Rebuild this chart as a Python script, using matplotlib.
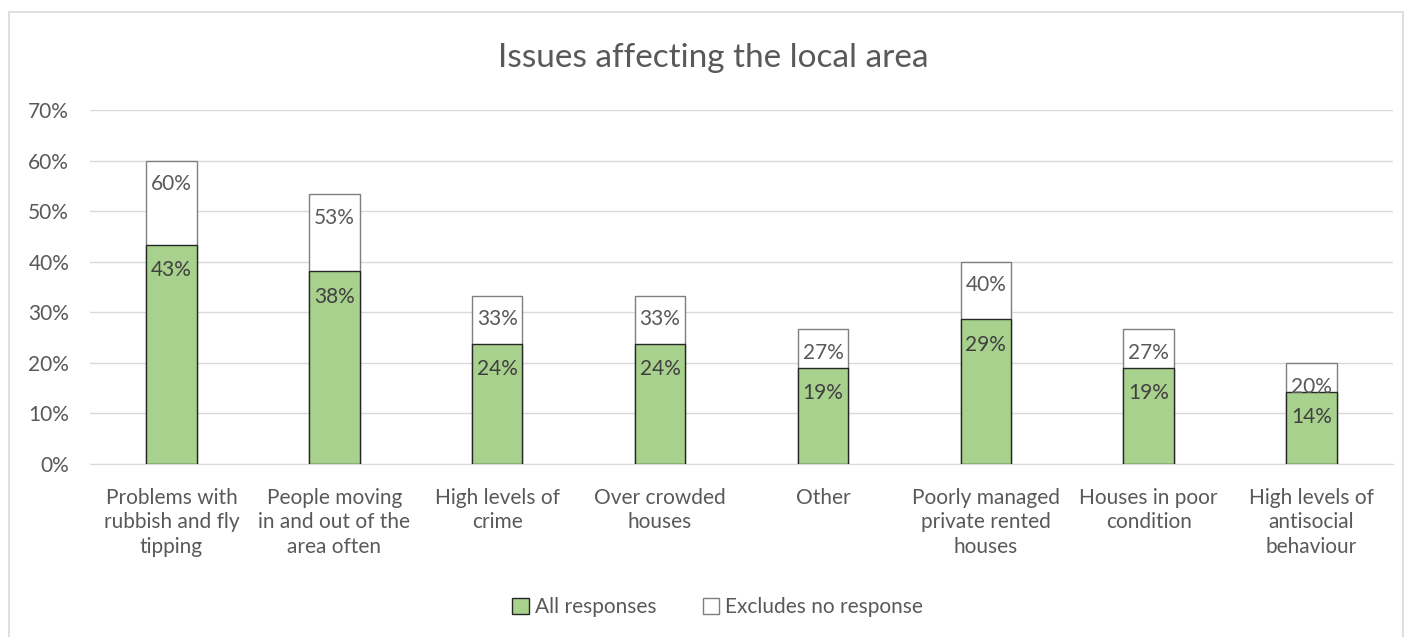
import matplotlib
matplotlib.use("Agg")
import matplotlib.pyplot as plt
from matplotlib.patches import Rectangle, Patch
import numpy as np

categories = ["Problems with\nrubbish and fly\ntipping", "People moving\nin and out of the\narea often",
              "High levels of\ncrime", "Over crowded\nhouses", "Other", "Poorly managed\nprivate rented\nhouses",
              "Houses in poor\ncondition", "High levels of\nantisocial\nbehaviour"]
all_responses = [0.433, 0.381, 0.238, 0.238, 0.190, 0.286, 0.190, 0.143]
excludes_no_response = [0.600, 0.533, 0.333, 0.333, 0.267, 0.400, 0.267, 0.200]
yticks = [0, 0.1, 0.2, 0.3, 0.4, 0.5, 0.6, 0.7]

plt.rcParams['font.family'] = ['Lato', 'DejaVu Sans']
txt = '#595959'
fs = 15

fig = plt.figure(figsize=(14.13, 6.37), dpi=100)
fig.patches.append(Rectangle((9/1413, -0.05), (1403-9)/1413, 1.05 - 12/637, transform=fig.transFigure,
                             facecolor='white', edgecolor='#d9d9d9', linewidth=1.2, zorder=-1))
ax = fig.add_axes([90/1413, 1-464/637, (1393-90)/1413, (464-110)/637])
x = np.arange(len(categories))
w = 0.31
ax.bar(x, excludes_no_response, w, color='white', edgecolor='#7f7f7f', linewidth=1.0, zorder=2,
       label='Excludes no response')
ax.bar(x, all_responses, w, color='#a9d18e', edgecolor='#262626', linewidth=1.0, zorder=3,
       label='All responses')
for xi, v in zip(x, excludes_no_response):
    ax.text(xi, v - 0.047, f"{v*100:.0f}%", ha='center', va='center', fontsize=fs, color=txt, zorder=4)
for xi, v in zip(x, all_responses):
    ax.text(xi, v - 0.05, f"{v*100:.0f}%", ha='center', va='center', fontsize=fs, color='#404040', zorder=4)

ax.set_xlim(-0.5, len(categories) - 0.5)
ax.set_ylim(0, 0.7)
ax.set_yticks(yticks)
ax.set_yticklabels([f"{t*100:.0f}%" for t in yticks], fontsize=fs, color=txt)
ax.set_xticks(x)
ax.set_xticklabels(categories, fontsize=fs, color=txt, linespacing=1.28)
ax.tick_params(length=0)
ax.tick_params(axis='x', pad=17)
ax.tick_params(axis='y', pad=15)
ax.grid(axis='y', color='#d9d9d9', linewidth=1.0, zorder=0)
ax.set_axisbelow(True)
for s in ['top', 'right', 'left']:
    ax.spines[s].set_visible(False)
ax.spines['bottom'].set_color('#d9d9d9')
ax.patch.set_alpha(0)

fig.text(713/1413, 1-58/637, "Issues affecting the local area", ha='center', va='center', fontsize=24, color=txt)

handles = [Patch(facecolor='#a9d18e', edgecolor='#262626', label='All responses'),
           Patch(facecolor='white', edgecolor='#7f7f7f', label='Excludes no response')]
fig.legend(handles=handles, loc='center', bbox_to_anchor=(0.508, 1-607/637), ncol=2, frameon=False,
           fontsize=fs, labelcolor=txt, handlelength=0.8, handleheight=0.8, handletextpad=0.3, columnspacing=2.2)

fig.savefig("out.png", dpi=100)
